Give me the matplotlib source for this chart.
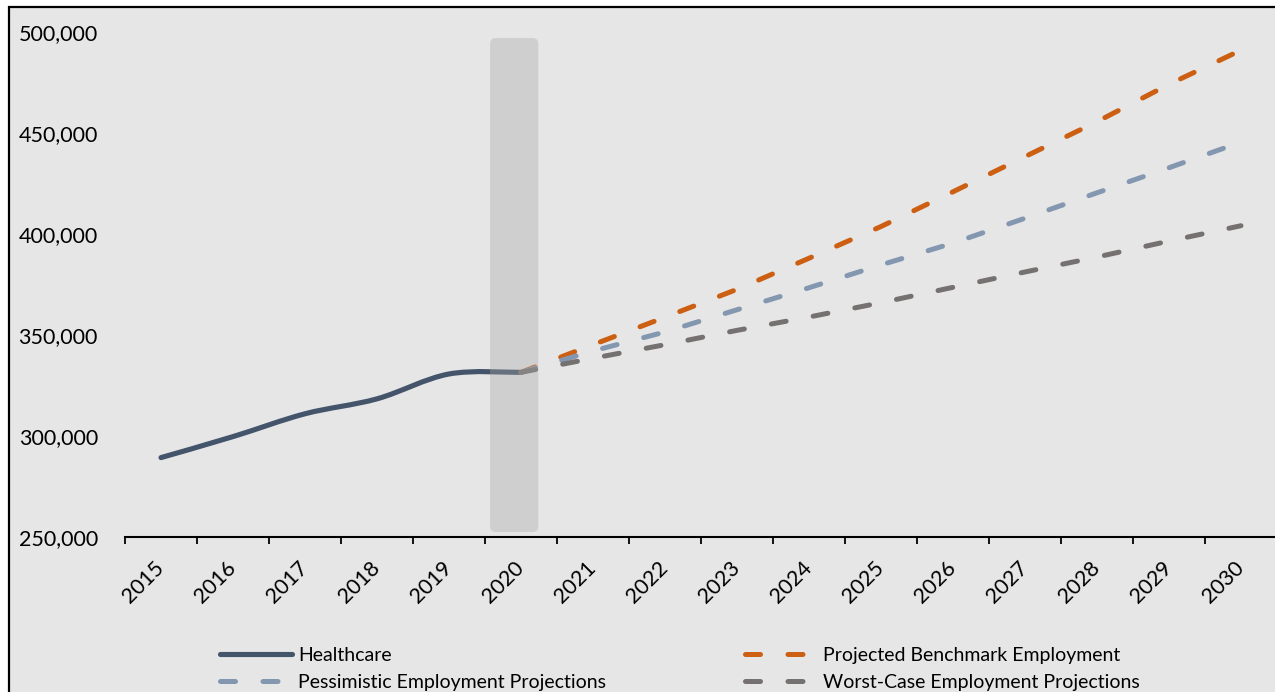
import numpy as np
import matplotlib.pyplot as plt
from matplotlib.path import Path
from matplotlib.patches import PathPatch, FancyBboxPatch, Rectangle
from matplotlib.ticker import FuncFormatter

plt.rcParams['font.family'] = ['Lato', 'DejaVu Sans']

years = [str(y) for y in range(2015, 2031)]

# actual employment, 2015-2020
healthcare = [289300, 299700, 311000, 318400, 330700, 331500]

# projections, 2020-2030
benchmark = [331500, 345200, 358800, 372600, 388000, 403700, 420900, 438300, 455600, 474100, 491000]
pessimistic = [331500, 342100, 351500, 362500, 373400, 384700, 395500, 407800, 420400, 432800, 445500]
worst_case = [331500, 338500, 345200, 352300, 358900, 366000, 373600, 381200, 388600, 396500, 404100]

c_health = '#44546a'
c_bench = '#cc5f12'
c_pess = '#8497b0'
c_worst = '#767171'
bg = '#e6e6e6'

W, H = 1275, 692
fig = plt.figure(figsize=(W / 100, H / 100), dpi=100)
fig.patch.set_facecolor('white')
fig.patches.append(Rectangle((8.5 / W, -0.05), 1.1, (H - 7) / H + 0.05,
                             transform=fig.transFigure, facecolor=bg,
                             edgecolor='black', lw=1.6, zorder=-10))

ax = fig.add_axes([125 / W, (H - 537) / H, (1277 - 125) / W, (537 - 32) / H])
ax.set_facecolor('none')

x = np.arange(len(years))
xh = x[:len(healthcare)]
xp = x[len(healthcare) - 1:]

# smoothed history line (Catmull-Rom style bezier, like Excel's smoothing)
pts = np.column_stack([xh, healthcare]).astype(float)
verts = [pts[0]]
codes = [Path.MOVETO]
for i in range(len(pts) - 1):
    p0 = pts[max(i - 1, 0)]
    p1 = pts[i]
    p2 = pts[i + 1]
    p3 = pts[min(i + 2, len(pts) - 1)]
    verts += [p1 + (p2 - p0) / 6, p2 - (p3 - p1) / 6, p2]
    codes += [Path.CURVE4] * 3
ax.add_patch(PathPatch(Path(verts, codes), facecolor='none', edgecolor=c_health,
                       lw=3.7, capstyle='round', zorder=2))
ax.plot([], [], color=c_health, lw=3.7, solid_capstyle='round', label='Healthcare')

dash = (0, (3, 5.5))
ax.plot(xp, benchmark, color=c_bench, lw=3.6, ls=dash, dash_capstyle='round',
        label='Projected Benchmark Employment', zorder=3)
ax.plot(xp, pessimistic, color=c_pess, lw=3.6, ls=dash, dash_capstyle='round',
        label='Pessimistic Employment Projections', zorder=4)
ax.plot(xp, worst_case, color=c_worst, lw=3.6, ls=dash, dash_capstyle='round',
        label='Worst-Case Employment Projections', zorder=5)

# highlight band around 2020
ax.add_patch(FancyBboxPatch((4.57, 252500), 0.67, 244500,
                            boxstyle='round,pad=0,rounding_size=0.08',
                            mutation_aspect=495 * 72,
                            facecolor='#a6a6a6', edgecolor='none', alpha=0.35, zorder=6))

ax.set_xlim(-0.5, 15.5)
ax.set_ylim(250000, 500000)
ax.set_yticks(np.arange(250000, 500001, 50000))
ax.yaxis.set_major_formatter(FuncFormatter(lambda v, p: f'{v:,.0f}'))
ax.tick_params(axis='y', length=0, pad=19.5, labelsize=15.5, labelcolor='black')

ax.set_xticks(x)
ax.set_xticklabels(years)
ax.set_xticks(np.arange(-0.5, 15.6, 1), minor=True)
ax.tick_params(axis='x', which='major', length=0, pad=20, labelsize=15.5)
ax.tick_params(axis='x', which='minor', length=5, width=1.3, color='black')
for lbl in ax.get_xticklabels():
    lbl.set_rotation(45)
    lbl.set_ha('right')
    lbl.set_va('center')
    lbl.set_rotation_mode('anchor')

for s in ['left', 'right', 'top']:
    ax.spines[s].set_visible(False)
ax.spines['bottom'].set_color('black')
ax.spines['bottom'].set_linewidth(1.5)

handles, labels = ax.get_legend_handles_labels()
order = {l: h for h, l in zip(handles, labels)}
col1 = ['Healthcare', 'Pessimistic Employment Projections']
col2 = ['Projected Benchmark Employment', 'Worst-Case Employment Projections']
kw = dict(loc='upper left', frameon=False, fontsize=14, borderpad=0,
          borderaxespad=0, handlelength=3.7, handletextpad=0.31,
          labelspacing=0.5, bbox_transform=fig.transFigure)
leg1 = ax.legend([order[l] for l in col1], col1,
                 bbox_to_anchor=(220 / W, (H - 647) / H), **kw)
ax.add_artist(leg1)
ax.legend([order[l] for l in col2], col2,
          bbox_to_anchor=(745 / W, (H - 647) / H), **kw)

fig.savefig('out.png', dpi=100, facecolor=fig.get_facecolor())
